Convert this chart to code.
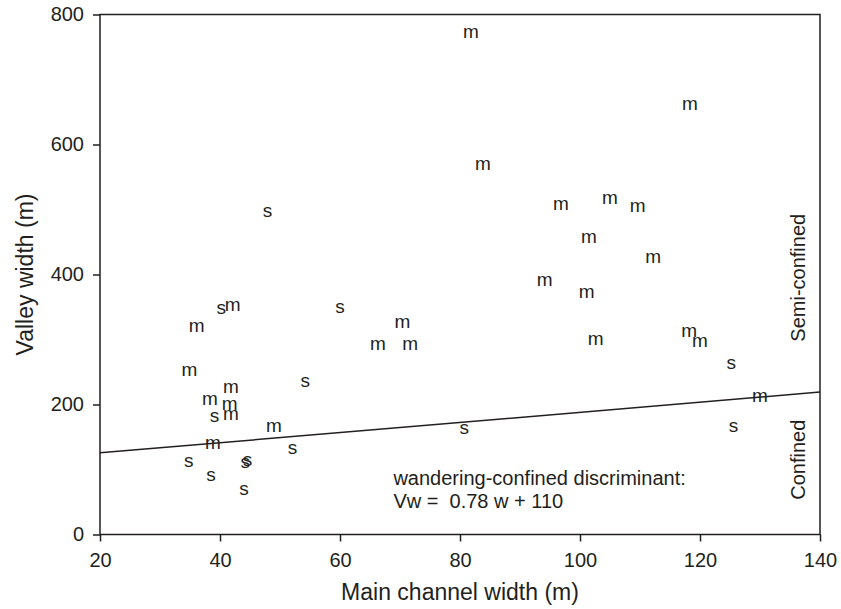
<!DOCTYPE html>
<html>
<head>
<meta charset="utf-8">
<script src="https://cdn.jsdelivr.net/npm/d3@7"></script>
<style>
  body { margin: 0; background: #fff; }
  svg { display: block; font-family: 'Liberation Sans', Arial, sans-serif; }
</style>
</head>
<body>
<div class="scatterplot"></div>
<script>
// main channel width (m)
const channelWidths = [
  81.8, 118.3, 83.8, 96.8, 105.0, 109.6, 101.5, 112.2, 94.1, 101.1,
  102.6, 118.2, 120.0, 125.2, 60.0, 70.4, 66.3, 71.7, 47.9, 40.2,
  42.1, 36.1, 34.9, 41.8, 38.3, 41.6, 39.1, 41.8, 54.2, 49.0,
  38.8, 52.1, 34.8, 44.2, 44.6, 38.5, 44.0, 80.7, 125.6, 130.0,
];
// valley width (m)
const valleyWidths = [
  771, 661, 568, 507, 516, 504, 456, 426, 390, 371,
  300, 312, 297, 263, 348, 326, 292, 292, 497, 347,
  352, 320, 252, 226, 207, 200, 181, 184, 235, 166,
  139, 131, 112, 110, 113, 90, 68, 163, 166, 211,
];
// plotting symbol for each reach
const reachTypes = [
  'm', 'm', 'm', 'm', 'm', 'm', 'm', 'm', 'm', 'm',
  'm', 'm', 'm', 's', 's', 'm', 'm', 'm', 's', 's',
  'm', 'm', 'm', 'm', 'm', 'm', 's', 'm', 's', 'm',
  'm', 's', 's', 's', 's', 's', 's', 's', 's', 'm',
];
const xTicks = [20, 40, 60, 80, 100, 120, 140];
const yTicks = [0, 200, 400, 600, 800];
const discriminant = { slope: 0.78, intercept: 110 };
const zoneLabels = [
  { label: 'Semi-confined', value: 395 },
  { label: 'Confined', value: 115 },
];

const ink = '#231f20';

const dataset = channelWidths.map((w, i) => ({
  w,
  v: valleyWidths[i],
  type: reachTypes[i],
}));

const xAccessor = (d) => d.w;
const yAccessor = (d) => d.v;

function drawScatterPlot(data) {
  const dimensions = {
    width: 841,
    height: 609,
    margin: {
      top: 14.5,
      right: 21,
      bottom: 74.5,
      left: 100,
    },
  };

  dimensions.boundedWidth =
    dimensions.width - dimensions.margin.left - dimensions.margin.right;
  dimensions.boundedHeight =
    dimensions.height - dimensions.margin.top - dimensions.margin.bottom;

  const svg = d3
    .select('.scatterplot')
    .append('svg')
    .attr('width', dimensions.width)
    .attr('height', dimensions.height);

  const bounds = svg
    .append('g')
    .attr(
      'transform',
      `translate(${dimensions.margin.left}, ${dimensions.margin.top})`
    );

  const xScale = d3
    .scaleLinear()
    .domain([20, 140])
    .range([0, dimensions.boundedWidth]);

  const yScale = d3
    .scaleLinear()
    .domain([0, 800])
    .range([dimensions.boundedHeight, 0]);

  // frame
  bounds
    .append('rect')
    .attr('width', dimensions.boundedWidth)
    .attr('height', dimensions.boundedHeight)
    .attr('fill', 'none')
    .attr('stroke', ink)
    .attr('stroke-width', 1.5);

  // discriminant line
  const lineGenerator = d3
    .line()
    .x((w) => xScale(w))
    .y((w) => yScale(discriminant.slope * w + discriminant.intercept));

  bounds
    .append('path')
    .attr('d', lineGenerator(xScale.domain()))
    .attr('fill', 'none')
    .attr('stroke', ink)
    .attr('stroke-width', 1.5);

  // letters as markers
  bounds
    .selectAll('.mark')
    .data(data)
    .join('text')
    .attr('class', 'mark')
    .attr('x', (d) => xScale(xAccessor(d)))
    .attr('y', (d) => yScale(yAccessor(d)))
    .attr('dy', '0.27em')
    .attr('text-anchor', 'middle')
    .attr('fill', ink)
    .style('font-size', '19px')
    .text((d) => d.type);

  const xAxisGenerator = d3
    .axisBottom(xScale)
    .tickValues(xTicks)
    .tickSize(7)
    .tickPadding(11);

  const xAxis = bounds
    .append('g')
    .attr('transform', `translate(0, ${dimensions.boundedHeight})`)
    .call(xAxisGenerator);

  const yAxisGenerator = d3
    .axisLeft(yScale)
    .tickValues(yTicks)
    .tickSize(7)
    .tickPadding(9);

  const yAxis = bounds.append('g').call(yAxisGenerator);

  [xAxis, yAxis].forEach((axis) => {
    axis.select('.domain').remove();
    axis.selectAll('line').attr('stroke', ink).attr('stroke-width', 1.5);
    axis
      .selectAll('text')
      .attr('fill', ink)
      .style('font-size', '20px')
      .style('font-family', 'Liberation Sans, Arial, sans-serif');
  });

  // xAxisLabel
  bounds
    .append('text')
    .attr('x', dimensions.boundedWidth / 2)
    .attr('y', dimensions.boundedHeight + 65.5)
    .attr('text-anchor', 'middle')
    .attr('fill', ink)
    .style('font-size', '23px')
    .text('Main channel width (m)');

  // yAxisLabel
  bounds
    .append('text')
    .attr(
      'transform',
      `translate(-67, ${dimensions.boundedHeight / 2}) rotate(-90)`
    )
    .attr('text-anchor', 'middle')
    .attr('fill', ink)
    .style('font-size', '23px')
    .text('Valley width (m)');

  // zone labels along the right edge
  bounds
    .selectAll('.zone')
    .data(zoneLabels)
    .join('text')
    .attr('class', 'zone')
    .attr(
      'transform',
      (d) => `translate(${dimensions.boundedWidth - 15}, ${yScale(d.value)}) rotate(-90)`
    )
    .attr('text-anchor', 'middle')
    .attr('fill', ink)
    .style('font-size', '20px')
    .text((d) => d.label);

  // equation note
  const note = bounds
    .append('text')
    .attr('x', xScale(68.9))
    .attr('y', yScale(76))
    .attr('fill', ink)
    .style('font-size', '20px')
    .style('white-space', 'pre');

  note.append('tspan').text('wandering-confined discriminant:');
  note
    .append('tspan')
    .attr('x', xScale(68.9))
    .attr('dy', 23)
    .text(`Vw =  ${discriminant.slope} w + ${discriminant.intercept}`);
}

drawScatterPlot(dataset);
</script>
</body>
</html>
